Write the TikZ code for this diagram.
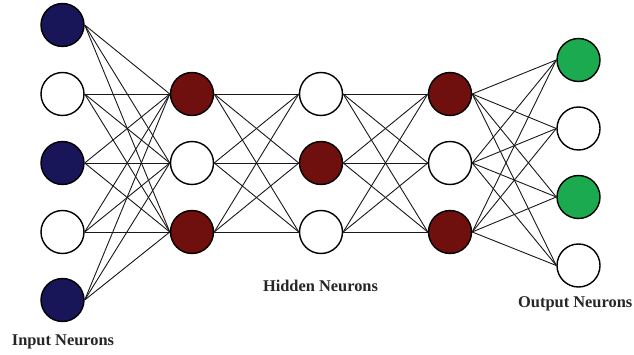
\documentclass[tikz,border=0pt]{standalone}
\usepackage{fontspec}
\setmainfont{Liberation Serif}
\definecolor{inblue}{RGB}{24,22,88}
\definecolor{hidred}{RGB}{112,16,14}
\definecolor{outgreen}{RGB}{28,170,80}
\begin{document}
\begin{tikzpicture}[x=1pt,y=-1pt,
  neuron/.style={circle,draw=black,line width=1.4pt,minimum size=43pt,inner sep=0pt},
  blank/.style={neuron,fill=white},
  inputn/.style={neuron,fill=inblue},
  hiddenn/.style={neuron,fill=hidred},
  outputn/.style={neuron,fill=outgreen},
  link/.style={draw=black!90,line width=0.9pt},
  caption/.style={font=\fontsize{16.4}{18}\selectfont\bfseries,text=black!85,inner sep=0pt}]
\useasboundingbox (0,0) rectangle (634,355);
\fill[white] (0,0) rectangle (634,355);

% input layer
\node[inputn] (i1) at (62.5,25) {};
\node[blank]  (i2) at (62.5,94) {};
\node[inputn] (i3) at (62.5,163) {};
\node[blank]  (i4) at (62.5,232) {};
\node[inputn] (i5) at (62.5,300) {};

% first hidden layer
\node[hiddenn] (a1) at (192,94) {};
\node[blank]   (a2) at (192,163) {};
\node[hiddenn] (a3) at (192,232) {};

% second hidden layer
\node[blank]   (b1) at (321,94) {};
\node[hiddenn] (b2) at (321,163) {};
\node[blank]   (b3) at (321,232) {};

% third hidden layer
\node[hiddenn] (c1) at (450,94) {};
\node[blank]   (c2) at (450,163) {};
\node[hiddenn] (c3) at (450,232) {};

% output layer
\node[outputn] (o1) at (578.5,60) {};
\node[blank]   (o2) at (578.5,128.5) {};
\node[outputn] (o3) at (578.5,197) {};
\node[blank]   (o4) at (578.5,265.5) {};

% fully connected links between consecutive layers
\foreach \s in {1,...,5}
  \foreach \t in {1,2,3}
    \draw[link] (i\s.east) -- (a\t.west);
\foreach \s in {1,2,3}
  \foreach \t in {1,2,3}
    {\draw[link] (a\s.east) -- (b\t.west);
     \draw[link] (b\s.east) -- (c\t.west);}
\foreach \s in {1,2,3}
  \foreach \t in {1,...,4}
    \draw[link] (c\s.east) -- (o\t.west);

% captions
\node[caption] (lin)  at (63,342)  {Input Neurons};
\node[caption] (lhid) at (320.5,286) {Hidden Neurons};
\node[caption,anchor=east] (lout) at (632.5,304) {Output Neurons};
\end{tikzpicture}
\end{document}
